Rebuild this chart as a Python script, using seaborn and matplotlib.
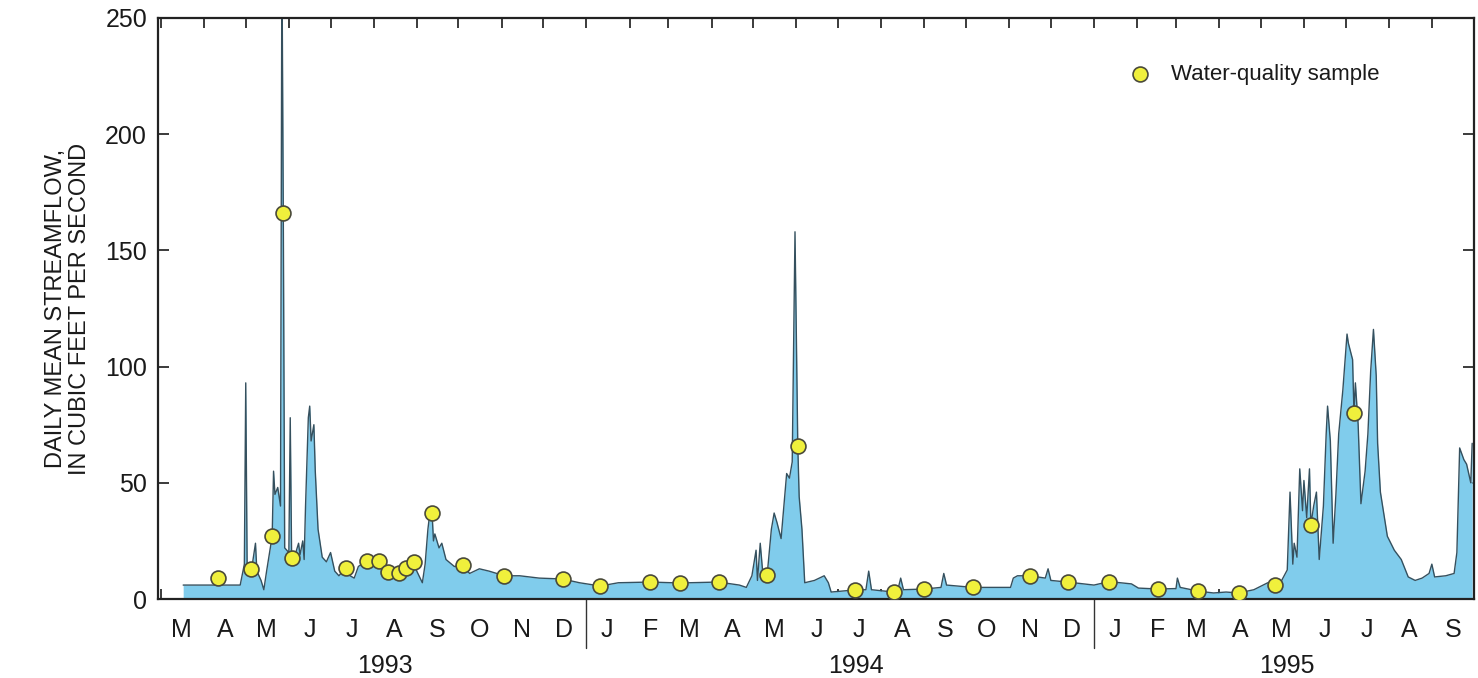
import pandas as pd
import numpy as np
import matplotlib
matplotlib.use('Agg')
import matplotlib.pyplot as plt
import matplotlib.dates as mdates
import seaborn as sns

# Daily mean streamflow (breakpoints)
flow_dates = [
    '1993-03-17', '1993-04-27', '1993-04-30', '1993-05-01', '1993-05-02', '1993-05-05',
    '1993-05-06', '1993-05-08', '1993-05-09', '1993-05-12', '1993-05-14', '1993-05-16',
    '1993-05-20', '1993-05-21', '1993-05-22', '1993-05-24', '1993-05-26', '1993-05-27',
    '1993-05-28', '1993-05-29', '1993-06-01', '1993-06-02', '1993-06-03', '1993-06-05',
    '1993-06-08', '1993-06-09', '1993-06-11', '1993-06-12', '1993-06-13', '1993-06-15',
    '1993-06-16', '1993-06-17', '1993-06-19', '1993-06-20', '1993-06-22', '1993-06-25',
    '1993-06-28', '1993-07-01', '1993-07-04', '1993-07-07', '1993-07-12', '1993-07-15',
    '1993-07-18', '1993-07-21', '1993-07-27', '1993-08-01', '1993-08-05', '1993-08-08',
    '1993-08-11', '1993-08-16', '1993-08-19', '1993-08-24', '1993-08-30', '1993-09-01',
    '1993-09-05', '1993-09-07', '1993-09-09', '1993-09-10', '1993-09-12', '1993-09-13',
    '1993-09-14', '1993-09-17', '1993-09-19', '1993-09-22', '1993-09-28', '1993-10-04',
    '1993-10-09', '1993-10-16', '1993-10-23', '1993-11-03', '1993-11-14', '1993-11-28',
    '1993-12-15', '1993-12-27', '1994-01-11', '1994-01-24', '1994-02-16', '1994-03-09',
    '1994-04-06', '1994-04-21', '1994-04-26', '1994-04-30', '1994-05-03', '1994-05-04',
    '1994-05-06', '1994-05-08', '1994-05-11', '1994-05-14', '1994-05-16', '1994-05-18',
    '1994-05-21', '1994-05-25', '1994-05-27', '1994-05-29', '1994-05-31', '1994-06-02',
    '1994-06-03', '1994-06-05', '1994-06-07', '1994-06-14', '1994-06-21', '1994-06-24',
    '1994-06-26', '1994-07-13', '1994-07-21', '1994-07-23', '1994-07-25', '1994-08-10',
    '1994-08-13', '1994-08-15', '1994-08-17', '1994-09-01', '1994-09-13', '1994-09-15',
    '1994-09-17', '1994-10-06', '1994-11-02', '1994-11-04', '1994-11-07', '1994-11-16',
    '1994-11-27', '1994-11-29', '1994-12-01', '1994-12-13', '1995-01-01', '1995-01-12',
    '1995-01-28', '1995-02-02', '1995-02-16', '1995-03-01', '1995-03-02', '1995-03-04',
    '1995-03-17', '1995-03-28', '1995-04-06', '1995-04-15', '1995-04-26', '1995-05-06',
    '1995-05-11', '1995-05-16', '1995-05-20', '1995-05-22', '1995-05-24', '1995-05-25',
    '1995-05-27', '1995-05-29', '1995-05-31', '1995-06-01', '1995-06-03', '1995-06-05',
    '1995-06-06', '1995-06-08', '1995-06-10', '1995-06-12', '1995-06-15', '1995-06-17',
    '1995-06-18', '1995-06-20', '1995-06-22', '1995-06-24', '1995-06-26', '1995-06-29',
    '1995-07-02', '1995-07-03', '1995-07-06', '1995-07-07', '1995-07-08', '1995-07-10',
    '1995-07-12', '1995-07-15', '1995-07-17', '1995-07-19', '1995-07-21', '1995-07-23',
    '1995-07-24', '1995-07-26', '1995-07-31', '1995-08-05', '1995-08-10', '1995-08-15',
    '1995-08-20', '1995-08-25', '1995-08-30', '1995-09-01', '1995-09-03', '1995-09-11',
    '1995-09-17', '1995-09-19', '1995-09-21', '1995-09-24', '1995-09-26', '1995-09-29',
    '1995-09-30',
]
flow_values = [
    6, 6, 15, 93, 14, 13,
    16, 24, 12, 8, 4, 12,
    27, 55, 45, 48, 40, 280,
    166, 22, 20, 78, 17.5, 18,
    24, 19, 25, 17, 40, 78,
    83, 68, 75, 55, 30, 18,
    16, 20, 12, 10, 13.5, 10,
    9, 14, 16.5, 17, 16.5, 11,
    11.5, 11, 12, 13.5, 16, 12,
    7, 15, 30, 35, 37, 25,
    28, 22, 24, 17, 14, 14.5,
    11, 13, 12, 10, 10, 9,
    8.6, 7, 5.6, 7, 7.3, 6.9,
    7.3, 6, 5, 10, 21, 8,
    24, 10, 10.5, 30, 37, 33,
    26, 54, 52, 59, 158, 66,
    44, 30, 7, 8, 10, 7,
    3, 3.9, 4, 12, 4, 3,
    4, 9, 4, 4.3, 5, 11,
    6, 5, 5, 9, 10, 10,
    9, 13, 8, 7.3, 6, 7.5,
    6.5, 4.7, 4.3, 4.5, 9, 5,
    3.4, 2.6, 3, 2.6, 4, 7,
    6, 8, 12.5, 46, 15, 24,
    18, 56, 38, 51, 35, 56,
    32, 40, 46, 17, 40, 71,
    83, 68, 24, 45, 71, 90,
    114, 110, 103, 80, 93, 75,
    41, 55, 71, 98, 116, 96,
    67, 46, 27, 21, 17, 9.5,
    8, 9, 11, 15, 9.5, 10,
    11, 20, 65, 60, 58, 50,
    67,
]

# Water-quality samples
sample_dates = [
    '1993-04-11', '1993-05-05', '1993-05-20', '1993-05-28', '1993-06-03', '1993-07-12',
    '1993-07-27', '1993-08-05', '1993-08-11', '1993-08-19', '1993-08-24', '1993-08-30',
    '1993-09-12', '1993-10-04', '1993-11-03', '1993-12-15', '1994-01-11', '1994-02-16',
    '1994-03-09', '1994-04-06', '1994-05-11', '1994-06-02', '1994-07-13', '1994-08-10',
    '1994-09-01', '1994-10-06', '1994-11-16', '1994-12-13', '1995-01-12', '1995-02-16',
    '1995-03-17', '1995-04-15', '1995-05-11', '1995-06-06', '1995-07-07',
]
sample_values = [
    9, 13, 27, 166, 17.5, 13.5,
    16.5, 16.5, 11.5, 11, 13.5, 16,
    37, 14.5, 10, 8.6, 5.6, 7.3,
    6.9, 7.3, 10.5, 66, 3.9, 3,
    4.3, 5, 10, 7.3, 7.5, 4.3,
    3.4, 2.6, 6, 32, 80,
]

year_labels = ['1993', '1994', '1995']
year_label_dates = ['1993-08-09', '1994-07-14', '1995-05-20']
year_breaks = ['1994-01-01', '1995-01-01']

flow = pd.DataFrame({'date': pd.to_datetime(flow_dates), 'flow': flow_values})
samples = pd.DataFrame({'date': pd.to_datetime(sample_dates), 'flow': sample_values})

sns.set_style('ticks')
plt.rcParams['font.family'] = ['Liberation Sans', 'DejaVu Sans']
plt.rcParams['text.color'] = '#1a1a1a'
plt.rcParams['xtick.color'] = '#1a1a1a'
plt.rcParams['ytick.color'] = '#1a1a1a'
plt.rcParams['axes.labelcolor'] = '#1a1a1a'

fig = plt.figure(figsize=(14.78, 6.78), dpi=100)
ax = fig.add_axes([0.107, 0.1165, 0.890, 0.857])

ax.fill_between(flow['date'], 0, flow['flow'], color='#80ccec', linewidth=0)
sns.lineplot(data=flow, x='date', y='flow', ax=ax, color='#35505e', linewidth=1.0)
sns.scatterplot(data=samples, x='date', y='flow', ax=ax, s=115, color='#f0f03c',
                edgecolor='#4a4a3a', linewidth=1.2, zorder=5,
                label='Water-quality sample')

ax.set_xlim(pd.Timestamp('1993-02-27'), pd.Timestamp('1995-10-01'))
ax.set_ylim(0, 250)
ax.set_yticks([0, 50, 100, 150, 200, 250])

ax.xaxis.set_major_locator(mdates.MonthLocator(bymonthday=1))
ax.xaxis.set_major_formatter(plt.NullFormatter())
ax.xaxis.set_minor_locator(mdates.MonthLocator(bymonthday=16))
ax.xaxis.set_minor_formatter(plt.FuncFormatter(lambda v, p: mdates.num2date(v).strftime('%b')[0]))

ax.tick_params(axis='x', which='major', direction='in', length=7, width=1.2, top=True)
ax.tick_params(axis='x', which='minor', length=0, labelsize=18, pad=14)
ax.tick_params(axis='y', direction='in', length=8, width=1.2, right=True, labelsize=18, pad=8)

for s in ax.spines.values():
    s.set_linewidth(1.6)
    s.set_color('#222222')

# year labels and separators below the axis
trans = matplotlib.transforms.blended_transform_factory(ax.transData, ax.transAxes)
for lab, d in zip(year_labels, year_label_dates):
    ax.text(pd.Timestamp(d), -0.095, lab, transform=trans, ha='center', va='top', fontsize=18)
for d in year_breaks:
    ax.plot([pd.Timestamp(d)] * 2, [0, -0.085], transform=trans, color='#333333',
            linewidth=1.0, clip_on=False)

ax.set_xlabel('')
ax.set_ylabel('DAILY MEAN STREAMFLOW,\nIN CUBIC FEET PER SECOND', fontsize=17, labelpad=10,
              linespacing=1.15)

ax.legend(loc='upper right', bbox_to_anchor=(0.944, 0.955), frameon=False, fontsize=16,
          handletextpad=0.4, markerscale=1.0)

plt.savefig('out.png', dpi=100)
